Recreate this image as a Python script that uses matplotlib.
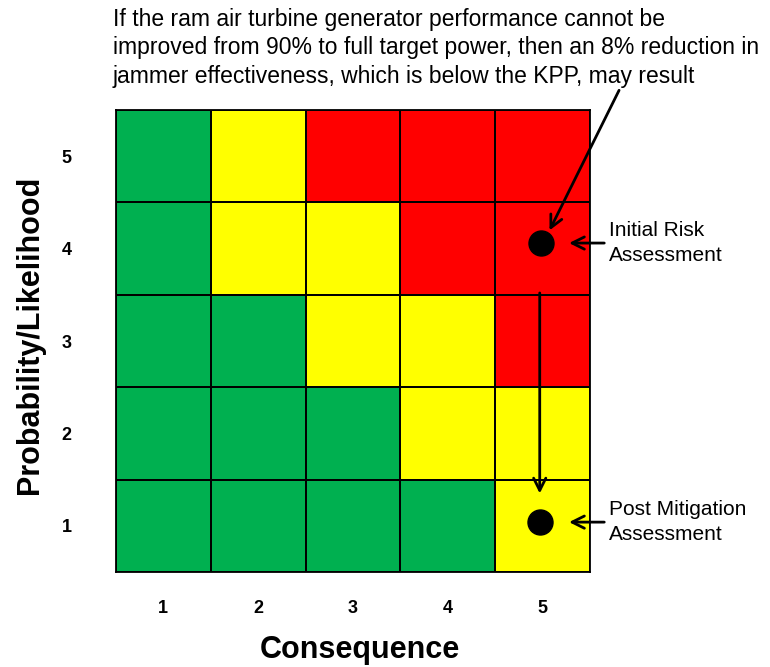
import matplotlib.pyplot as plt
from matplotlib.colors import ListedColormap
import numpy as np

consequence = [1, 2, 3, 4, 5]
likelihood = [1, 2, 3, 4, 5]
# risk level per cell, rows = likelihood 1..5, cols = consequence 1..5 (0 green, 1 yellow, 2 red)
risk = [
    [0, 0, 0, 0, 1],
    [0, 0, 0, 1, 1],
    [0, 0, 1, 1, 2],
    [0, 1, 1, 2, 2],
    [0, 1, 2, 2, 2],
]
initial = (4.98, 4.06)
post = (4.97, 1.04)
note = ("If the ram air turbine generator performance cannot be\n"
        "improved from 90% to full target power, then an 8% reduction in\n"
        "jammer effectiveness, which is below the KPP, may result")

plt.rcParams['font.family'] = ['Liberation Sans', 'DejaVu Sans']
fig = plt.figure(figsize=(7.7, 6.67), dpi=100)
ax = fig.add_axes([0.1506, 0.1424, 0.6156, 0.6927])

cmap = ListedColormap(['#00B050', '#FFFF00', '#FF0000'])
edges = np.arange(0.5, 6.0, 1.0)
ax.pcolormesh(edges, edges, np.array(risk), cmap=cmap, vmin=0, vmax=2,
              edgecolors='black', linewidth=1.1)
ax.set_xlim(0.5, 5.5)
ax.set_ylim(0.5, 5.5)
for s in ax.spines.values():
    s.set_linewidth(1.3)

ax.set_xticks(consequence)
ax.set_yticks(likelihood)
ax.set_xticklabels([str(c) for c in consequence], fontsize=13, fontweight='bold')
ax.set_yticklabels([str(l) for l in likelihood], fontsize=13, fontweight='bold')
ax.tick_params(length=0, pad=20, axis='x')
ax.tick_params(length=0, pad=32, axis='y')

fig.text(360 / 770, 1 - 650 / 667, 'Consequence', fontsize=22, fontweight='bold',
         ha='center', va='center')
fig.text(30 / 770, 1 - 335 / 667, 'Probability/Likelihood', fontsize=22, fontweight='bold',
         ha='center', va='center', rotation=90)

ax.plot(*initial, 'o', color='black', markersize=18)
ax.plot(*post, 'o', color='black', markersize=18)

arrow = dict(arrowstyle='->', color='black', lw=2, mutation_scale=22)
ax.annotate('', xy=(post[0], 1.32), xytext=(post[0], 3.55), arrowprops=arrow)
ax.annotate('', xy=(5.06, 4.17), xytext=(5.82, 5.74), arrowprops=arrow, annotation_clip=False)
ax.annotate('', xy=(5.25, initial[1]), xytext=(5.68, initial[1]), arrowprops=arrow, annotation_clip=False)
ax.annotate('', xy=(5.25, post[1]), xytext=(5.68, post[1]), arrowprops=arrow, annotation_clip=False)

ax.text(5.70, initial[1], 'Initial Risk\nAssessment', fontsize=15, va='center', ha='left',
        linespacing=1.4, clip_on=False)
ax.text(5.70, post[1], 'Post Mitigation\nAssessment', fontsize=15, va='center', ha='left',
        linespacing=1.4, clip_on=False)

fig.text(113 / 770, 1 - 8 / 667, note, fontsize=16.5, va='top', ha='left', linespacing=1.3)

fig.savefig('out.png', dpi=100)
